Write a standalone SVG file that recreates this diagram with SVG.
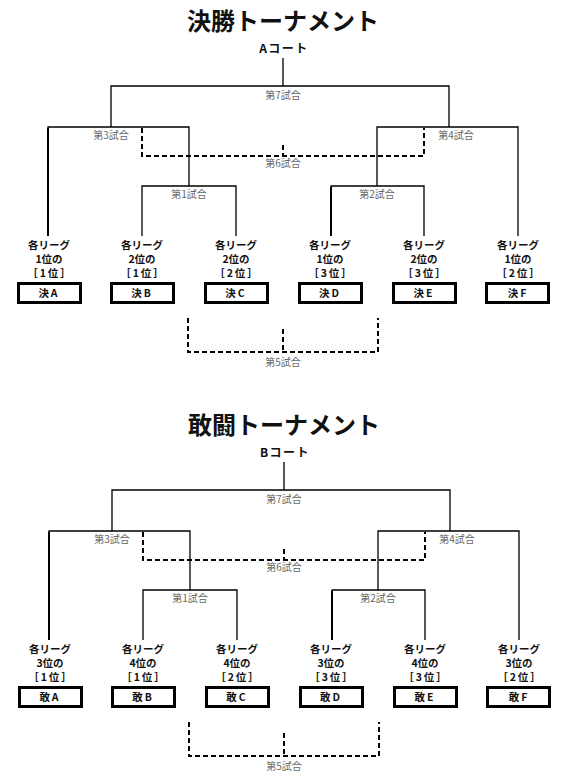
<svg xmlns="http://www.w3.org/2000/svg" width="567" height="776" viewBox="0 0 567 776">
<defs>
<style>
.title{font-family:"Noto Sans CJK JP","Noto Sans",sans-serif;font-size:24px;font-weight:bold;fill:#111;text-anchor:middle}
.court{font-family:"Noto Sans CJK JP","Noto Sans",sans-serif;font-size:12px;font-weight:bold;fill:#111;text-anchor:middle;letter-spacing:1.5px}
.lbl{font-family:"Noto Sans CJK JP","Noto Sans",sans-serif;font-size:10px;fill:#666;text-anchor:middle}
.nt{font-family:"Noto Sans CJK JP","Noto Sans",sans-serif;font-size:10.5px;font-weight:bold;fill:#111;text-anchor:middle}
.br{letter-spacing:2px}
.bx{fill:#fff;stroke:#000;stroke-width:3}
.ln{fill:none;stroke:#000;stroke-width:1.3}
.lnb{fill:none;stroke:#000;stroke-width:2}
.ds{fill:none;stroke:#000;stroke-width:2;stroke-dasharray:5 3}
</style>
</defs>
<rect width="567" height="776" fill="#fff"/>

<g id="section-kessho">
<text id="title-kessho" class="title" x="283" y="30">決勝トーナメント</text>
<text id="court-a" class="court" x="284" y="53">Aコート</text>
<g id="connectors-kessho">
<path class="ln" d="M283 58V86M111 127V86H449V127"/>
<path class="ln" d="M48 236V127H189V186M142 236V186H236V236"/>
<path class="ln" d="M518 236V127H377V186M331 236V186H424V236"/>
<path class="lnb" d="M48 236V128M331 236V187"/>
<path class="ds" d="M142 128V156H424V128M283 145V156"/>
<path class="ds" d="M188 318V352H378V318M283 329V352"/>
<text class="lbl" x="283" y="99">第7試合</text>
<text class="lbl" x="111" y="139">第3試合</text>
<text class="lbl" x="456" y="139">第4試合</text>
<text class="lbl" x="283" y="167">第6試合</text>
<text class="lbl" x="189" y="198">第1試合</text>
<text class="lbl" x="377" y="198">第2試合</text>
<text class="lbl" x="283" y="366">第5試合</text>
</g>
<g id="k-A"><text class="nt" x="49" y="249">各リーグ</text><text class="nt" x="49" y="263">1位の</text><text class="nt br" x="50" y="277">［1位］</text><rect class="bx" x="18.5" y="283.5" width="62" height="19"/><text class="nt" x="49" y="297" letter-spacing="2">決A</text></g>
<g id="k-B"><text class="nt" x="142" y="249">各リーグ</text><text class="nt" x="142" y="263">2位の</text><text class="nt br" x="143" y="277">［1位］</text><rect class="bx" x="111.5" y="283.5" width="62" height="19"/><text class="nt" x="142" y="297" letter-spacing="2">決B</text></g>
<g id="k-C"><text class="nt" x="236" y="249">各リーグ</text><text class="nt" x="236" y="263">2位の</text><text class="nt br" x="237" y="277">［2位］</text><rect class="bx" x="205.5" y="283.5" width="62" height="19"/><text class="nt" x="236" y="297" letter-spacing="2">決C</text></g>
<g id="k-D"><text class="nt" x="330" y="249">各リーグ</text><text class="nt" x="330" y="263">1位の</text><text class="nt br" x="331" y="277">［3位］</text><rect class="bx" x="299.5" y="283.5" width="62" height="19"/><text class="nt" x="330" y="297" letter-spacing="2">決D</text></g>
<g id="k-E"><text class="nt" x="424" y="249">各リーグ</text><text class="nt" x="424" y="263">2位の</text><text class="nt br" x="425" y="277">［3位］</text><rect class="bx" x="393.5" y="283.5" width="62" height="19"/><text class="nt" x="424" y="297" letter-spacing="2">決E</text></g>
<g id="k-F"><text class="nt" x="518" y="249">各リーグ</text><text class="nt" x="518" y="263">1位の</text><text class="nt br" x="519" y="277">［2位］</text><rect class="bx" x="486.5" y="283.5" width="62" height="19"/><text class="nt" x="518" y="297" letter-spacing="2">決F</text></g>
</g>

<g id="section-kanto" transform="translate(1,404)">
<text id="title-kanto" class="title" x="283" y="30">敢闘トーナメント</text>
<text id="court-b" class="court" x="284" y="53">Bコート</text>
<g id="connectors-kanto">
<path class="ln" d="M283 58V86M111 127V86H449V127"/>
<path class="ln" d="M48 236V127H189V186M142 236V186H236V236"/>
<path class="ln" d="M518 236V127H377V186M331 236V186H424V236"/>
<path class="lnb" d="M48 236V128M331 236V187"/>
<path class="ds" d="M142 128V156H424V128M283 145V156"/>
<path class="ds" d="M188 318V352H378V318M283 329V352"/>
<text class="lbl" x="283" y="99">第7試合</text>
<text class="lbl" x="111" y="139">第3試合</text>
<text class="lbl" x="456" y="139">第4試合</text>
<text class="lbl" x="283" y="167">第6試合</text>
<text class="lbl" x="189" y="198">第1試合</text>
<text class="lbl" x="377" y="198">第2試合</text>
<text class="lbl" x="283" y="366">第5試合</text>
</g>
<g id="b-A"><text class="nt" x="49" y="249">各リーグ</text><text class="nt" x="49" y="263">3位の</text><text class="nt br" x="50" y="277">［1位］</text><rect class="bx" x="18.5" y="283.5" width="62" height="19"/><text class="nt" x="49" y="297" letter-spacing="2">敢A</text></g>
<g id="b-B"><text class="nt" x="142" y="249">各リーグ</text><text class="nt" x="142" y="263">4位の</text><text class="nt br" x="143" y="277">［1位］</text><rect class="bx" x="111.5" y="283.5" width="62" height="19"/><text class="nt" x="142" y="297" letter-spacing="2">敢B</text></g>
<g id="b-C"><text class="nt" x="236" y="249">各リーグ</text><text class="nt" x="236" y="263">4位の</text><text class="nt br" x="237" y="277">［2位］</text><rect class="bx" x="205.5" y="283.5" width="62" height="19"/><text class="nt" x="236" y="297" letter-spacing="2">敢C</text></g>
<g id="b-D"><text class="nt" x="330" y="249">各リーグ</text><text class="nt" x="330" y="263">3位の</text><text class="nt br" x="331" y="277">［3位］</text><rect class="bx" x="299.5" y="283.5" width="62" height="19"/><text class="nt" x="330" y="297" letter-spacing="2">敢D</text></g>
<g id="b-E"><text class="nt" x="424" y="249">各リーグ</text><text class="nt" x="424" y="263">4位の</text><text class="nt br" x="425" y="277">［3位］</text><rect class="bx" x="393.5" y="283.5" width="62" height="19"/><text class="nt" x="424" y="297" letter-spacing="2">敢E</text></g>
<g id="b-F"><text class="nt" x="518" y="249">各リーグ</text><text class="nt" x="518" y="263">3位の</text><text class="nt br" x="519" y="277">［2位］</text><rect class="bx" x="486.5" y="283.5" width="62" height="19"/><text class="nt" x="518" y="297" letter-spacing="2">敢F</text></g>
</g>
</svg>
